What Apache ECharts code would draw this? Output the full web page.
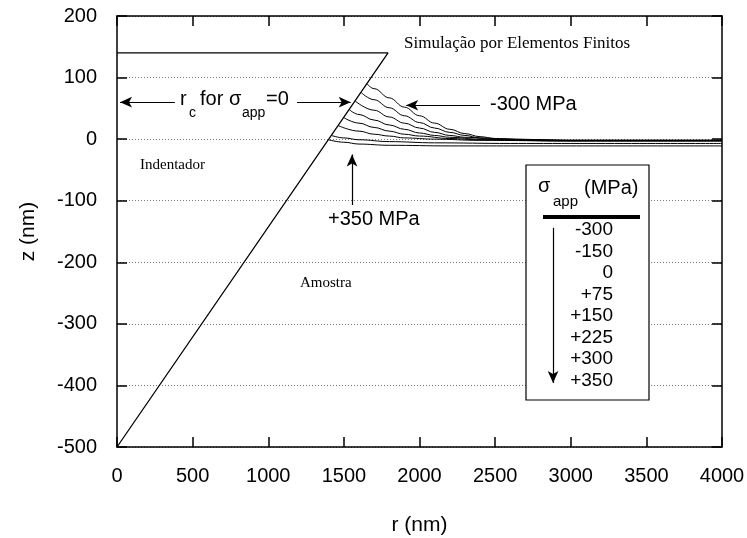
<!DOCTYPE html>
<html>
<head>
<meta charset="utf-8">
<script src="https://cdn.jsdelivr.net/npm/echarts@6/dist/echarts.min.js"></script>
<style>
  html, body { margin: 0; padding: 0; background: #fff; }
  #main { width: 747px; height: 538px; }
</style>
</head>
<body>
<div id="main"></div>
<script>
// indenter profile (flat top + conical face), r/z in nm
var indenterR = [0, 1792, 0];
var indenterZ = [140, 140, -500];

// surface profiles for each applied stress, [r, z] in nm
var curveM300 = [[1652, 90], [1700, 82], [1800, 67], [1900, 52], [2000, 38], [2100, 26], [2200, 16], [2300, 9], [2400, 4], [2500, 1], [2700, -1], [3000, -2], [4000, -2]];
var curveM150 = [[1613, 76], [1700, 64], [1800, 51], [1900, 38], [2000, 27], [2100, 18], [2200, 11], [2300, 6], [2400, 2], [2600, 0], [3000, -2], [4000, -2]];
var curve0    = [[1574, 62], [1700, 47], [1800, 36], [1900, 26], [2000, 18], [2100, 11], [2200, 6], [2300, 3], [2500, 0], [3000, -2], [4000, -2]];
var curveP75  = [[1535, 48], [1600, 40], [1700, 31], [1800, 23], [1900, 16], [2000, 10], [2100, 6], [2200, 3], [2400, 0], [3000, -2], [4000, -2]];
var curveP150 = [[1499, 35], [1600, 26], [1700, 19], [1800, 13], [1900, 8], [2000, 5], [2200, 1], [2400, -1], [3000, -3], [4000, -3]];
var curveP225 = [[1462, 22], [1600, 13], [1700, 8], [1800, 5], [1900, 2], [2100, 0], [2400, -2], [3000, -3], [4000, -3]];
var curveP300 = [[1417, 6], [1500, 2], [1600, -1], [1800, -4], [2100, -6], [2600, -7], [4000, -7]];
var curveP350 = [[1398, -1], [1500, -5], [1600, -8], [1800, -10], [2200, -11], [3000, -11], [4000, -11]];

var stressLabels = ['-300', '-150', '0', '+75', '+150', '+225', '+300', '+350'];
var curves = [curveM300, curveM150, curve0, curveP75, curveP150, curveP225, curveP300, curveP350];

var chart = echarts.init(document.getElementById('main'));

var SANS = 'Liberation Sans, Arial, sans-serif';
var SERIF = 'Liberation Serif, Times New Roman, serif';

function arrow(x1, y1, x2, y2) {
  return [
    { coord: [x1, y1], symbol: 'none' },
    { coord: [x2, y2], symbol: 'arrow', symbolSize: [8, 12] }
  ];
}

var series = [];
// 压头轮廓
series.push({
  type: 'line',
  data: indenterR.map(function (r, i) { return [r, indenterZ[i]]; }),
  symbol: 'none',
  lineStyle: { color: '#000', width: 1.3 },
  silent: true,
  markLine: {
    silent: true,
    symbol: ['none', 'arrow'],
    label: { show: false },
    lineStyle: { color: '#000', width: 1.2, type: 'solid' },
    data: [
      arrow(383, 60, 20, 60),
      arrow(1190, 60, 1545, 60),
      arrow(2400, 55, 1912, 55),
      arrow(1554, -107, 1554, -25),
      arrow(2883, -144, 2883, -396)
    ]
  }
});
// 表面曲线
curves.forEach(function (c, i) {
  series.push({
    name: stressLabels[i],
    type: 'line',
    data: c,
    symbol: 'none',
    smooth: 0.4,
    smoothMonotone: 'x',
    lineStyle: { color: '#000', width: 1 },
    silent: true
  });
});

function axisBase() {
  return {
    type: 'value',
    axisLine: { show: true, onZero: false, lineStyle: { color: '#000', width: 1.5 } },
    axisTick: { show: true, inside: true, length: 10, lineStyle: { color: '#000', width: 1.5 } },
    splitLine: { show: false }
  };
}

function plain(v) { return String(v); }

var option = {
  animation: false,
  grid: { left: 117, top: 16, right: 25, bottom: 91, containLabel: false, outerBoundsMode: 'none' },
  xAxis: [
    Object.assign(axisBase(), {
      min: 0, max: 4000, interval: 500,
      name: 'r (nm)', nameLocation: 'middle', nameGap: 68,
      nameTextStyle: { fontFamily: SANS, fontSize: 21, color: '#000' },
      axisLabel: { fontFamily: SANS, fontSize: 20, color: '#000', margin: 19, formatter: plain }
    }),
    Object.assign(axisBase(), {
      position: 'top', min: 0, max: 4000, interval: 500,
      axisLabel: { show: false }
    })
  ],
  yAxis: [
    Object.assign(axisBase(), {
      min: -500, max: 200, interval: 100,
      name: 'z (nm)', nameLocation: 'middle', nameGap: 78, nameRotate: 90,
      nameTextStyle: { fontFamily: SANS, fontSize: 21, color: '#000' },
      axisLabel: { fontFamily: SANS, fontSize: 20, color: '#000', margin: 20, formatter: plain },
      splitLine: { show: true, lineStyle: { color: '#777', type: [1, 2], width: 1 } }
    }),
    Object.assign(axisBase(), {
      position: 'right', min: -500, max: 200, interval: 100,
      axisLabel: { show: false }
    })
  ],
  series: series,
  graphic: [
    { type: 'text', left: 404, top: 35, style: { text: 'Simulação por Elementos Finitos', font: '17px ' + SERIF, fill: '#000' } },
    { type: 'text', left: 140, top: 158, style: { text: 'Indentador', font: '15px ' + SERIF, fill: '#000' } },
    { type: 'text', left: 300, top: 276, style: { text: 'Amostra', font: '15px ' + SERIF, fill: '#000' } },
    { type: 'text', left: 180, top: 89, style: { text: 'r', font: '20px ' + SANS, fill: '#000' } },
    { type: 'text', left: 189, top: 106, style: { text: 'c', font: '14px ' + SANS, fill: '#000' } },
    { type: 'text', left: 200, top: 89, style: { text: 'for σ', font: '20px ' + SANS, fill: '#000' } },
    { type: 'text', left: 242, top: 106, style: { text: 'app', font: '14px ' + SANS, fill: '#000' } },
    { type: 'text', left: 266, top: 89, style: { text: '=0', font: '20px ' + SANS, fill: '#000' } },
    { type: 'text', left: 490, top: 94, style: { text: '-300 MPa', font: '20px ' + SANS, fill: '#000' } },
    { type: 'text', left: 328, top: 209, style: { text: '+350 MPa', font: '20px ' + SANS, fill: '#000' } },
    // 图例框
    { type: 'rect', shape: { x: 526, y: 165, width: 123, height: 235 }, style: { fill: '#fff', stroke: '#000', lineWidth: 1.2 }, z: 1 },
    { type: 'text', left: 538, top: 176, z: 2, style: { text: 'σ', font: '20px ' + SANS, fill: '#000' } },
    { type: 'text', left: 553, top: 194, z: 2, style: { text: 'app', font: '15px ' + SANS, fill: '#000' } },
    { type: 'text', left: 584, top: 178, z: 2, style: { text: '(MPa)', font: '20px ' + SANS, fill: '#000' } },
    { type: 'line', z: 2, shape: { x1: 543, y1: 217, x2: 640, y2: 217 }, style: { stroke: '#000', lineWidth: 4 } },
    {
      type: 'group', z: 2,
      children: stressLabels.map(function (s, i) {
        return {
          type: 'text', x: 613, y: 230 + i * 21.5, z: 2,
          style: { text: s, font: '19px ' + SANS, fill: '#000', align: 'right', verticalAlign: 'middle' }
        };
      })
    }
  ]
};

chart.setOption(option);
</script>
</body>
</html>
